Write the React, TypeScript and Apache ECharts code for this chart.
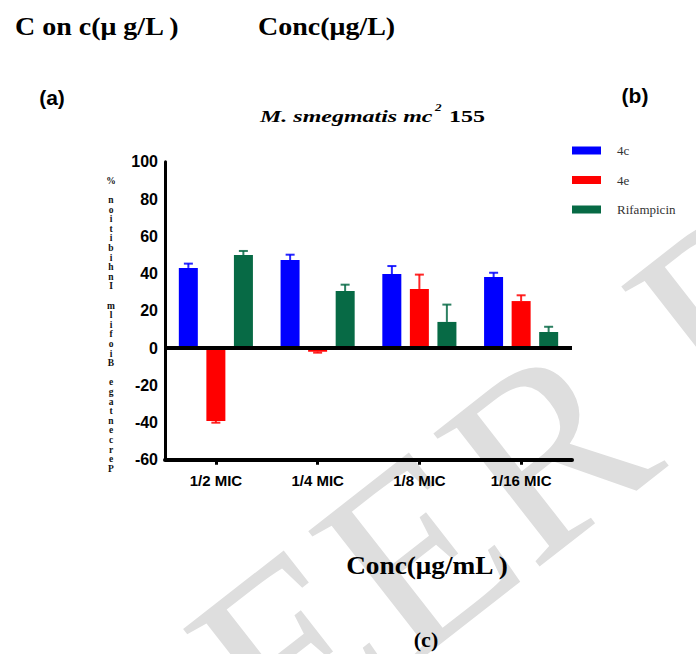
import React, { useEffect, useRef } from "react";
import * as echarts from "echarts";

const categories = ["1/2 MIC", "1/4 MIC", "1/8 MIC", "1/16 MIC"];
const seriesNames = ["4c", "4e", "Rifampicin"];
const values4c = [43.0, 47.2, 39.7, 38.1];
const errors4c = [45.3, 50.1, 44.0, 40.4];
const values4e = [-39.2, -2.0, 31.7, 25.2];
const errors4e = [-40.1, -2.5, 39.4, 28.3];
const valuesRif = [49.9, 30.6, 14.0, 8.6];
const errorsRif = [52.1, 34.0, 23.3, 11.4];
const yMin = -60;
const yMax = 100;
const yInterval = 20;
const yAxisTitle = "Percentage Biofilm Inhibition %";
const colors = ["#0000ff", "#ff0000", "#076a45"];

const BAR_W = 19;
const BAR_GAP = 8.5;

function errorSeries(idx: number, vals: number[], errs: number[]) {
  return {
    type: "custom",
    silent: true,
    z: 1,
    xAxisIndex: 0,
    yAxisIndex: 0,
    data: vals.map((v, i) => [i, v, errs[i]]),
    encode: { x: 0, y: [1, 2] },
    renderItem: (params: any, api: any) => {
      const i = api.value(0);
      const base = api.coord([i, api.value(1)]);
      const end = api.coord([i, api.value(2)]);
      const x = base[0] + (idx - 1) * (BAR_W + BAR_GAP);
      const st = { stroke: colors[idx], lineWidth: 2, opacity: 0.85 };
      return {
        type: "group",
        children: [
          { type: "line", shape: { x1: x, y1: base[1], x2: x, y2: end[1] }, style: st },
          { type: "line", shape: { x1: x - 4.5, y1: end[1], x2: x + 4.5, y2: end[1] }, style: st },
        ],
      };
    },
  };
}

export default function App() {
  const ref = useRef<HTMLDivElement>(null);
  useEffect(() => {
    document.body.style.margin = "0";
    const chart = echarts.init(ref.current!, null, { renderer: "svg" });
    const stacked = yAxisTitle.split("").reverse().join("\n");
    const wmRot = (38 * Math.PI) / 180;
    const barSeries = [values4c, values4e, valuesRif].map((vals, idx) => ({
      type: "bar",
      name: seriesNames[idx],
      data: vals,
      barWidth: BAR_W,
      barGap: "45%",
      itemStyle: { color: colors[idx] },
      z: 2,
      ...(idx === 0
        ? {
            markLine: {
              silent: true,
              symbol: ["none", "none"],
              label: { show: false },
              lineStyle: { color: "#000", width: 4, type: "solid" },
              data: [{ yAxis: 0 }],
            },
          }
        : {}),
    }));
    chart.setOption({
      animation: false,
      backgroundColor: "#ffffff",
      grid: { left: 165, right: 124, top: 161.75, bottom: 194.25, containLabel: false },
      legend: {
        data: seriesNames,
        orient: "vertical",
        left: 572,
        top: 144,
        padding: 0,
        itemWidth: 29,
        itemHeight: 8,
        itemGap: 16.5,
        icon: "rect",
        selectedMode: false,
        textStyle: {
          color: "#333",
          fontFamily: "Liberation Serif",
          fontSize: 13,
          padding: [6, 0, 0, 11],
        },
      },
      xAxis: {
        type: "category",
        data: categories,
        axisLine: { show: true, onZero: false, lineStyle: { color: "#000", width: 4 } },
        axisTick: { show: true, alignWithLabel: true, length: 5, lineStyle: { color: "#000", width: 3 } },
        axisLabel: {
          color: "#000",
          fontWeight: "bold",
          fontSize: 15,
          fontFamily: "Liberation Sans",
          margin: 13,
        },
        splitLine: { show: false },
      },
      yAxis: {
        type: "value",
        min: yMin,
        max: yMax,
        interval: yInterval,
        axisLine: { show: true, lineStyle: { color: "#000", width: 3 } },
        axisTick: { show: false },
        splitLine: { show: false },
        axisLabel: {
          color: "#000",
          fontWeight: "bold",
          fontSize: 16,
          fontFamily: "Liberation Sans",
          margin: 7,
        },
      },
      graphic: {
        elements: [
          {
            type: "text",
            z: -10,
            x: 194,
            y: 890,
            rotation: wmRot,
            silent: true,
            style: {
              text: "PEER REVIEW",
              font: '260px "Liberation Serif"',
              fill: "#dedede",
              verticalAlign: "bottom",
            },
          },
          {
            type: "text",
            x: 15,
            y: 27,
            scaleX: 1.12,
            style: {
              text: "C on c(μ g/L )",
              font: 'bold 25px "Liberation Serif"',
              fill: "#000",
              verticalAlign: "middle",
            },
          },
          {
            type: "text",
            x: 258,
            y: 27,
            scaleX: 1.12,
            style: {
              text: "Conc(μg/L)",
              font: 'bold 25px "Liberation Serif"',
              fill: "#000",
              verticalAlign: "middle",
            },
          },
          {
            type: "text",
            x: 52,
            y: 97,
            style: {
              text: "(a)",
              font: 'bold 21px "Liberation Sans"',
              fill: "#000",
              align: "center",
              verticalAlign: "middle",
            },
          },
          {
            type: "text",
            x: 635,
            y: 95,
            style: {
              text: "(b)",
              font: 'bold 21px "Liberation Sans"',
              fill: "#000",
              align: "center",
              verticalAlign: "middle",
            },
          },
          {
            type: "text",
            x: 260,
            y: 117,
            scaleX: 1.5,
            style: {
              text: "M. smegmatis mc",
              font: 'italic bold 16px "Liberation Serif"',
              fill: "#000",
              verticalAlign: "middle",
            },
          },
          {
            type: "text",
            x: 435,
            y: 107,
            scaleX: 1.2,
            style: {
              text: "2",
              font: 'italic bold 11px "Liberation Serif"',
              fill: "#000",
              verticalAlign: "middle",
            },
          },
          {
            type: "text",
            x: 449,
            y: 117,
            scaleX: 1.5,
            style: {
              text: "155",
              font: 'bold 16px "Liberation Serif"',
              fill: "#000",
              verticalAlign: "middle",
            },
          },
          {
            type: "text",
            x: 111,
            y: 176,
            style: {
              text: stacked,
              font: 'bold 9.5px "Liberation Serif"',
              lineHeight: 9.6,
              fill: "#111",
              align: "center",
              verticalAlign: "top",
            },
          },
          {
            type: "text",
            x: 427,
            y: 565,
            scaleX: 1.05,
            style: {
              text: "Conc(μg/mL )",
              font: 'bold 26px "Liberation Serif"',
              fill: "#000",
              align: "center",
              verticalAlign: "middle",
            },
          },
          {
            type: "text",
            x: 426,
            y: 639,
            style: {
              text: "(c)",
              font: 'bold 22px "Liberation Serif"',
              fill: "#000",
              align: "center",
              verticalAlign: "middle",
            },
          },
        ],
      },
      series: [
        ...barSeries,
        errorSeries(0, values4c, errors4c),
        errorSeries(1, values4e, errors4e),
        errorSeries(2, valuesRif, errorsRif),
      ],
    });
    return () => chart.dispose();
  }, []);
  return <div ref={ref} style={{ width: 696, height: 654 }} />;
}
